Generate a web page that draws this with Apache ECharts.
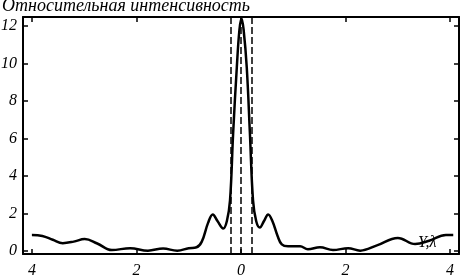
<!DOCTYPE html>
<html><head><meta charset="utf-8">
<script src="https://cdn.jsdelivr.net/npm/echarts@6/dist/echarts.min.js"></script>
<style>html,body{margin:0;padding:0;background:#fff}#c{width:462px;height:276px}</style>
</head><body><div id="c"></div>
<script>
var xs = [-4.0,-3.8,-3.6,-3.41,-3.2,-2.99,-2.75,-2.47,-2.12,-1.78,-1.49,-1.22,-1.0,-0.85,-0.75,-0.63,-0.54,-0.45,-0.34,-0.27,-0.21,-0.15,-0.08,-0.03,0.01,0.05,0.11,0.17,0.23,0.29,0.36,0.44,0.52,0.6,0.7,0.78,0.9,1.13,1.28,1.51,1.76,2.05,2.28,2.6,3.0,3.33,3.6,3.92,4.06];
var intensity = [0.85,0.8,0.6,0.42,0.5,0.64,0.4,0.05,0.15,0.02,0.13,0.02,0.15,0.2,0.5,1.5,1.95,1.6,1.2,1.6,2.7,6.3,9.8,11.8,12.4,11.8,9.8,6.3,2.7,1.6,1.25,1.6,1.95,1.6,0.8,0.35,0.25,0.25,0.1,0.2,0.05,0.15,0.02,0.3,0.7,0.37,0.55,0.85,0.85];
var dashedX = [-0.2, 0, 0.2];
var xTicks = [-4,-2,0,2,4];
var xTickLabels = ['4','2','0','2','4'];
var yTicks = [0,2,4,6,8,10,12];
var yTickLabels = ['0','2','4','6','8','10','12'];
var titleText = 'Относительная интенсивность';
var axisName = 'Y,λ';

var font = 'Liberation Serif';
var chart = echarts.init(document.getElementById('c'), null, {renderer:'canvas'});
var lineStyle = {color:'#000', width:2};
function xAx(pos, show){
  return {type:'value', position:pos, min:-4.17, max:4.17,
    axisLine:{show:true, onZero:false, lineStyle:lineStyle},
    axisTick:{show:true, inside:true, length:5, customValues:xTicks, lineStyle:{color:'#000', width:1.5}},
    axisLabel:{show:show, customValues:xTicks, margin:9, color:'#000', fontFamily:font, fontStyle:'italic', fontSize:16,
      formatter:function(v){var i=xTicks.indexOf(v);return i>=0?xTickLabels[i]:'';}},
    splitLine:{show:false}};
}
function yAx(pos, show){
  return {type:'value', position:pos, min:-0.16, max:12.48,
    axisLine:{show:true, onZero:false, lineStyle:lineStyle},
    axisTick:{show:true, inside:true, length:5, customValues:yTicks, lineStyle:{color:'#000', width:1.5}},
    axisLabel:{show:show, customValues:yTicks, margin:6, color:'#000', fontFamily:font, fontStyle:'italic', fontSize:16,
      formatter:function(v){var i=yTicks.indexOf(v);return i>=0?yTickLabels[i]:'';}},
    splitLine:{show:false}};
}
var data = xs.map(function(x,i){return [x,intensity[i]];});
chart.setOption({
  animation:false,
  grid:{left:23, right:3, top:17, bottom:22, containLabel:false, outerBoundsMode:'none'},
  title:{text:titleText, left:2, top:-3, padding:0, textStyle:{fontFamily:font, fontStyle:'italic', fontWeight:'normal', fontSize:18, color:'#000'}},
  xAxis:[xAx('bottom', true), xAx('top', false)],
  yAxis:[yAx('left', true), yAx('right', false)],
  graphic:[{type:'text', left:418, top:235, style:{text:axisName, font:'italic 16px "Liberation Serif"', fill:'#000'}}],
  series:[{type:'line', data:data, smooth:0.4, showSymbol:false, symbol:'none',
    lineStyle:{color:'#000', width:2.5},
    markLine:{silent:true, symbol:'none', label:{show:false},
      lineStyle:{color:'#000', width:1.5, type:[7,3]},
      data:dashedX.map(function(v){return {xAxis:v};})}
  }]
});
</script></body></html>
